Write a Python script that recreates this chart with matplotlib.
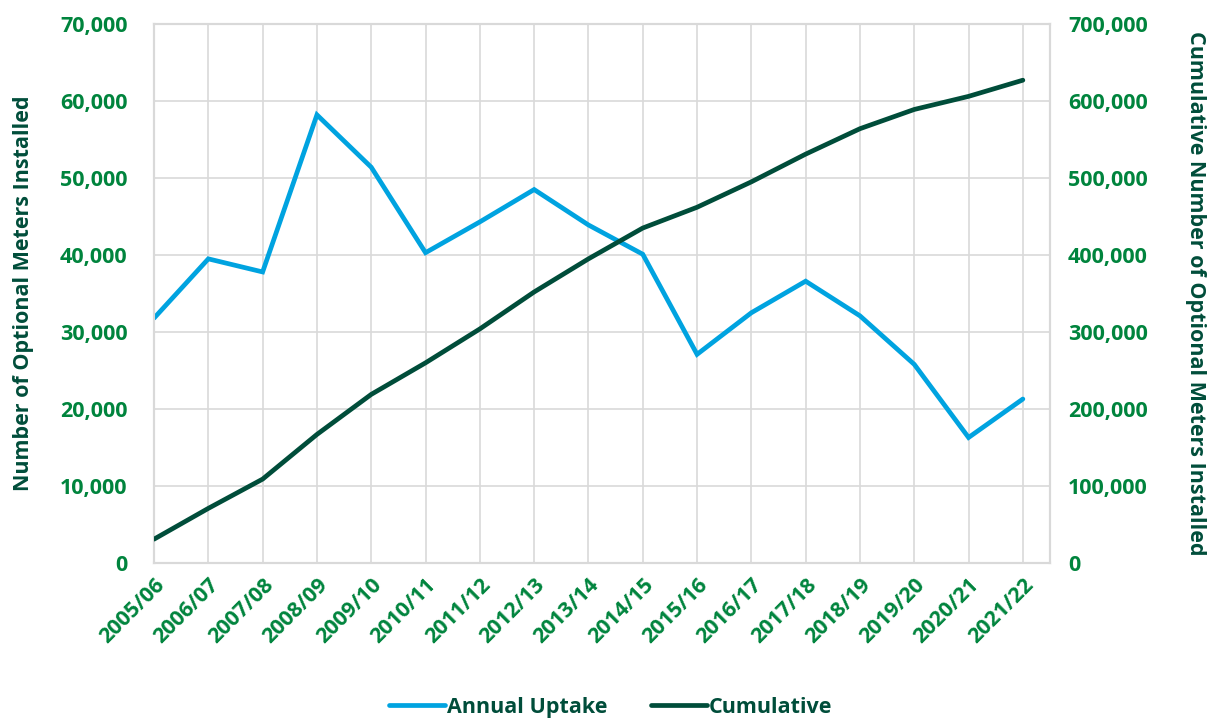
import matplotlib
matplotlib.use("Agg")
import matplotlib.pyplot as plt
from matplotlib.ticker import FuncFormatter, MultipleLocator

# data
years = ["2005/06", "2006/07", "2007/08", "2008/09", "2009/10", "2010/11",
         "2011/12", "2012/13", "2013/14", "2014/15", "2015/16", "2016/17",
         "2017/18", "2018/19", "2019/20", "2020/21", "2021/22"]
annual_uptake = [31800, 39500, 37800, 58200, 51400, 40300, 44300, 48500, 43900,
                 40100, 27100, 32500, 36600, 32100, 25800, 16300, 21300]
cumulative = [31000, 71000, 109000, 167000, 219000, 260000, 304000, 352000, 395000,
              435000, 462000, 495000, 531000, 564000, 589000, 606000, 627000]

blue = "#00A3E0"
dark_green = "#004D3A"
tick_green = "#00843D"
grid_grey = "#D9D9D9"

plt.rcParams["font.family"] = ["Open Sans", "DejaVu Sans"]
plt.rcParams["font.weight"] = "bold"

fig = plt.figure(figsize=(12.09, 7.2), dpi=100)
ax = fig.add_axes([0.1274, 0.218, 0.7411, 0.7487])
ax2 = ax.twinx()

x = list(range(len(years)))
l1, = ax.plot(x, annual_uptake, color=blue, lw=3.4, solid_capstyle="round",
              solid_joinstyle="miter", label="Annual Uptake", zorder=3)
l2, = ax2.plot(x, cumulative, color=dark_green, lw=3.4, solid_capstyle="round",
               solid_joinstyle="miter", label="Cumulative", zorder=3)

ax.set_xlim(0, len(years) - 0.5)
ax.set_ylim(0, 70000)
ax2.set_ylim(0, 700000)
ax.yaxis.set_major_locator(MultipleLocator(10000))
ax2.yaxis.set_major_locator(MultipleLocator(100000))
fmt = FuncFormatter(lambda v, p: f"{int(v):,}")
ax.yaxis.set_major_formatter(fmt)
ax2.yaxis.set_major_formatter(fmt)

ax.set_xticks(x)
ax.set_xticklabels(years, rotation=45, ha="right", rotation_mode="anchor")

ax.grid(True, color=grid_grey, lw=1.2, zorder=0)
ax.set_axisbelow(True)
for a in (ax, ax2):
    for s in a.spines.values():
        s.set_color(grid_grey)
        s.set_linewidth(1.5)
    a.tick_params(length=0, labelsize=15.5, labelcolor=tick_green)
    for lab in a.get_xticklabels() + a.get_yticklabels():
        lab.set_fontweight("bold")
ax.tick_params(axis="y", pad=19)
ax2.tick_params(axis="y", pad=13)
ax.tick_params(axis="x", pad=8)

ax.set_ylabel("Number of Optional Meters Installed", fontsize=15.5,
              color=dark_green, fontweight="bold", labelpad=19)
ax2.set_ylabel("Cumulative Number of Optional Meters Installed", fontsize=15.5,
               color=dark_green, fontweight="bold", rotation=-90, labelpad=42)

leg = fig.legend(handles=[l1, l2], loc="lower center", ncol=2,
                 bbox_to_anchor=(0.505, -0.024), frameon=False,
                 prop={"size": 15.5, "weight": "bold"},
                 handlelength=2.6, columnspacing=2.0, handletextpad=0.1)
for t in leg.get_texts():
    t.set_color(dark_green)

fig.savefig("out.png", dpi=100)
